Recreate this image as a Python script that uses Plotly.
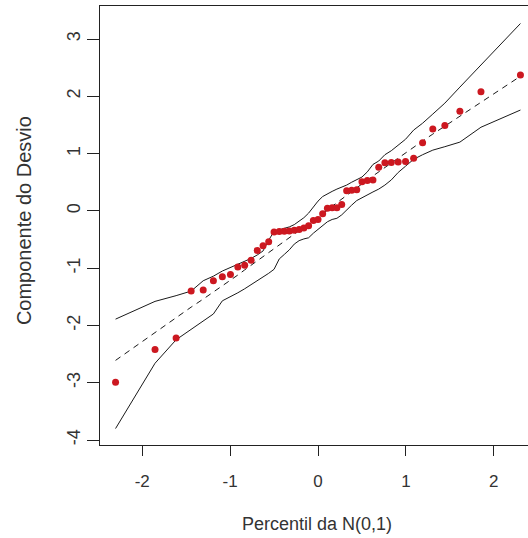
import plotly.graph_objects as go

# Theoretical N(0,1) percentiles (x positions of the 47 ordered residuals)
quantis = [-2.303, -1.854, -1.614, -1.443, -1.306, -1.190, -1.088, -0.996, -0.912, -0.834,
           -0.761, -0.691, -0.625, -0.561, -0.500, -0.441, -0.383, -0.326, -0.270, -0.215,
           -0.161, -0.107, -0.053, 0.000, 0.053, 0.107, 0.161, 0.215, 0.270, 0.326,
           0.383, 0.441, 0.500, 0.561, 0.625, 0.691, 0.761, 0.834, 0.912, 0.996,
           1.088, 1.190, 1.306, 1.443, 1.614, 1.854, 2.303]

# Ordered deviance components (red points)
desvio = [-2.99, -2.42, -2.22, -1.40, -1.38, -1.22, -1.15, -1.11, -0.98, -0.95,
          -0.86, -0.69, -0.61, -0.54, -0.37, -0.36, -0.355, -0.35, -0.34, -0.325,
          -0.30, -0.26, -0.17, -0.15, -0.05, 0.045, 0.053, 0.055, 0.11, 0.35,
          0.36, 0.37, 0.51, 0.53, 0.54, 0.76, 0.84, 0.845, 0.855, 0.86,
          0.92, 1.19, 1.43, 1.49, 1.74, 2.08, 2.37]

# Simulated envelope: lower band, mean (dashed), upper band
env_inf = [-3.80, -2.66, -2.25, -2.07, -1.93, -1.80, -1.57, -1.50, -1.43, -1.36,
           -1.29, -1.22, -1.16, -1.09, -1.02, -0.84, -0.76, -0.68, -0.58, -0.52,
           -0.49, -0.47, -0.39, -0.32, -0.26, -0.19, -0.15, -0.13, -0.07, 0.02,
           0.10, 0.18, 0.23, 0.29, 0.33, 0.38, 0.45, 0.54, 0.67, 0.78,
           0.90, 0.98, 1.06, 1.12, 1.20, 1.46, 1.76]
env_med = [-2.61, -2.12, -1.86, -1.68, -1.54, -1.42, -1.31, -1.21, -1.12, -1.03,
           -0.95, -0.87, -0.80, -0.73, -0.66, -0.59, -0.53, -0.47, -0.41, -0.35,
           -0.29, -0.23, -0.17, -0.11, -0.05, 0.01, 0.08, 0.14, 0.20, 0.27,
           0.33, 0.40, 0.47, 0.54, 0.61, 0.69, 0.76, 0.84, 0.93, 1.02,
           1.11, 1.22, 1.34, 1.48, 1.66, 1.90, 2.35]
env_sup = [-1.89, -1.58, -1.48, -1.40, -1.22, -1.14, -1.05, -0.99, -0.94, -0.88,
           -0.83, -0.77, -0.70, -0.51, -0.36, -0.33, -0.31, -0.28, -0.24, -0.18,
           -0.12, -0.04, 0.07, 0.17, 0.25, 0.30, 0.34, 0.38, 0.41, 0.45,
           0.50, 0.54, 0.59, 0.68, 0.81, 0.87, 0.98, 1.05, 1.14, 1.25,
           1.41, 1.53, 1.69, 1.88, 2.16, 2.55, 3.27]

x_ticks = [-2, -1, 0, 1, 2]
y_ticks = [-4, -3, -2, -1, 0, 1, 2, 3]

line_col = "#1a1a1a"
fig = go.Figure()
fig.add_trace(go.Scatter(x=quantis, y=env_inf, mode="lines",
                         line=dict(color=line_col, width=1), hoverinfo="skip"))
fig.add_trace(go.Scatter(x=quantis, y=env_sup, mode="lines",
                         line=dict(color=line_col, width=1), hoverinfo="skip"))
fig.add_trace(go.Scatter(x=quantis, y=env_med, mode="lines",
                         line=dict(color=line_col, width=1, dash="6px,5px"), hoverinfo="skip"))
fig.add_trace(go.Scatter(x=quantis, y=desvio, mode="markers",
                         marker=dict(color="#cc1820", size=7, line=dict(width=0))))

axis_font = dict(family="Liberation Sans, Arial, sans-serif", size=17, color="#333333")

fig.update_layout(
    width=528, height=538,
    margin=dict(l=100, r=0, t=6, b=93),
    paper_bgcolor="white", plot_bgcolor="white",
    showlegend=False,
    font=dict(family="Liberation Sans, Arial, sans-serif", color="#333333"),
    xaxis=dict(range=[-2.480, 2.389], tickvals=x_ticks, ticktext=[str(v) for v in x_ticks],
               showgrid=False, zeroline=False, showline=True, mirror=True,
               linecolor="#222222", linewidth=1, ticks="outside", ticklen=10,
               tickcolor="#222222", tickfont=axis_font, ticklabelstandoff=11),
    yaxis=dict(range=[-4.087, 3.576], tickvals=y_ticks, ticktext=[str(v) for v in y_ticks],
               showgrid=False, zeroline=False, showline=True, mirror=False,
               linecolor="#222222", linewidth=1, ticks="outside", ticklen=12,
               tickcolor="#222222", tickangle=-90,
               tickfont=dict(family="Liberation Sans, Arial, sans-serif", size=18, color="#333333")),
    annotations=[
        dict(text="Percentil da N(0,1)", xref="paper", yref="paper", x=0.507, y=0,
             xanchor="center", yanchor="middle", yshift=-79, showarrow=False,
             font=dict(family="Liberation Sans, Arial, sans-serif", size=18, color="#333333")),
        dict(text="Componente do Desvio", xref="paper", yref="paper", x=0, y=0.51,
             xanchor="center", yanchor="middle", xshift=-76, textangle=-90, showarrow=False,
             font=dict(family="Liberation Sans, Arial, sans-serif", size=20, color="#333333")),
    ],
)

fig.write_html("out.html")
